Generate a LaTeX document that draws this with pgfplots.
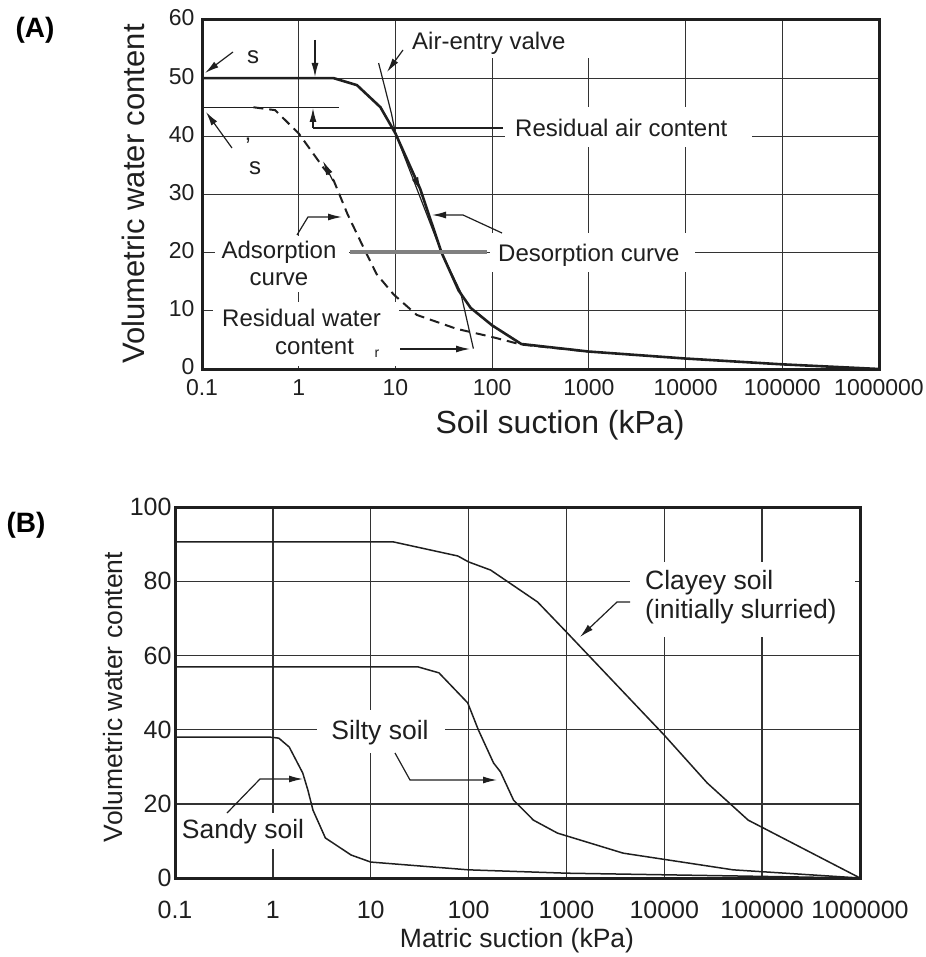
\documentclass[border=0pt]{standalone}
\usepackage{fontspec}
\setmainfont{Liberation Sans}
\usepackage{pgfplots}
\pgfplotsset{compat=1.18}
\usetikzlibrary{arrows.meta}
\definecolor{ink}{gray}{0.12}
\definecolor{gridc}{gray}{0.2}
\begin{document}
\begin{tikzpicture}
\useasboundingbox (0pt,0pt) rectangle (925pt,-957pt);
% ---------------- Panel A ----------------
\begin{axis}[xmode=log, xmin=0.1, xmax=1000000,
  scale only axis, at={(202pt,-20pt)}, anchor=north west, width=677pt, height=349pt,
  xtick={0.1,1,10,100,1000,10000,100000,1000000},
  xticklabels={0.1,1,10,100,1000,10000,100000,1000000},
  grid=major, major grid style={line width=1.2pt, color=gridc},
  axis line style={line width=3pt, color=ink},
  tick style={draw=none},
  ymin=0, ymax=60, ytick={0,10,20,30,40,50,60},
  ticklabel style={font=\fontsize{23}{23}\selectfont, text=ink},
  xticklabel style={anchor=base, yshift=-26pt},
  yticklabel style={xshift=-4pt, yshift=2pt},
  /pgf/number format/assume math mode=true]
\addplot[ink, line width=2.6pt] coordinates {(0.1,50) (2.3,50) (4.0,48.8) (7.0,45) (10,40.5) (18,31) (30,20) (45,13.5) (60,10.5) (100,7.5) (200,4.3) (1000,3.0) (10000,1.8) (100000,0.8) (1000000,0)};
\addplot[ink, line width=2pt, dash pattern=on 10pt off 6pt] coordinates {(0.34,45) (0.57,44.5) (1.0,40.5) (1.8,34.6) (2.3,32.4) (3.2,26.6) (4.7,20.8) (6.4,16.3) (9.6,12.8) (16.6,9.3) (43,6.9) (100,5.5) (200,4.2) (1000,3.0)};
\addplot[ink, line width=1.2pt] coordinates {(6.7,52.6) (9.1,43.9) (10,40.5) (30,20) (47,13.3) (64,3.5)};
\addplot[ink, line width=1.2pt] coordinates {(0.1,45) (2.6,45)};
\end{axis}
% ---------------- Panel B ----------------
\begin{axis}[xmode=log, xmin=0.1, xmax=1000000,
  scale only axis, at={(175pt,-507pt)}, anchor=north west, width=685pt, height=371pt,
  xtick={0.1,1,10,100,1000,10000,100000,1000000},
  xticklabels={0.1,1,10,100,1000,10000,100000,1000000},
  grid=major, major grid style={line width=1.4pt, color=gridc},
  axis line style={line width=3pt, color=ink},
  tick style={draw=none},
  ymin=0, ymax=100, ytick={0,20,40,60,80,100},
  ticklabel style={font=\fontsize{25}{25}\selectfont, text=ink},
  xticklabel style={anchor=base, yshift=-40pt},
  /pgf/number format/assume math mode=true]
\addplot[ink, line width=1.5pt] coordinates {(0.1,90.6) (17,90.6) (77.6,86.8) (100,85.2) (168,83.0) (507,74.4) (1000,66.3) (10000,38.5) (27500,25.6) (72000,15.6) (1000000,0)};
\addplot[ink, line width=1.5pt] coordinates {(0.1,56.9) (30.5,56.9) (49.8,55.3) (98,47.2) (126,39.9) (180,31.0) (212,28.6) (288,21.0) (460,15.6) (810,12.1) (3800,6.7) (50600,2.2) (1000000,0)};
\addplot[ink, line width=1.5pt] coordinates {(0.1,38.0) (0.91,38.0) (1.15,37.7) (1.47,35.3) (2.02,28.3) (2.28,23.7) (2.57,18.3) (3.44,10.8) (6.3,6.2) (10,4.3) (100,2.2) (1000,1.3) (1000000,0)};
\end{axis}
\begin{scope}[x=1pt,y=1pt]
% white boxes A
\fill[white] (405,-21) rectangle (590,-58);
\fill[white] (505,-107) rectangle (752,-147);
\fill[white] (490,-233) rectangle (695,-272);
\fill[white] (215,-236) rectangle (349,-292);
\fill[white] (213,-302) rectangle (399,-366);
% annotations A
\begin{scope}[ink, line width=1.2pt, >={Latex[length=14pt,width=7pt]}]
\draw[->] (233,-52) -- (205,-73);
\draw[->] (232,-148) -- (206,-112);
\draw[->] (315,-40) -- (315,-77);
\draw[->] (313,-128) -- (313,-108);
\draw (313,-128) -- (503,-128);
\draw[->] (403,-50) -- (387,-72);
\draw[->] (297,-235) -- (308,-217) -- (342,-217);
\draw[->] (502,-233) -- (463,-215) -- (432,-215);
\draw[->] (400,-349) -- (470,-349);
\draw[->] (412,-172) -- (421,-191);
\draw[->] (333,-181) -- (323,-161);
\draw[gray, line width=3.5pt] (350,-252) -- (487,-252);
\end{scope}
\begin{scope}[text=ink, font=\fontsize{24}{27}\selectfont]
\node[anchor=west, inner sep=0] at (412,-43) {Air-entry valve};
\node[anchor=west, inner sep=0] at (515,-128) {Residual air content};
\node[anchor=west, inner sep=0] at (498,-255) {Desorption curve};
\node[align=center, inner sep=0] at (279,-263) {Adsorption\\curve};
\node[anchor=west, inner sep=0] at (222,-318) {Residual water};
\node[anchor=west, inner sep=0] at (275,-347) {content};
\node[inner sep=0, font=\fontsize{14}{14}\selectfont] at (377,-354) {r};
\node[inner sep=0] at (253,-57) {s};
\node[inner sep=0] at (248,-146) {'};
\node[inner sep=0] at (255,-168) {s};
\end{scope}
\node[rotate=90, text=ink, font=\fontsize{31}{31}\selectfont] at (133,-194) {Volumetric water content};
\node[text=ink, font=\fontsize{32}{32}\selectfont] at (560,-425) {Soil suction (kPa)};
\node[text=black, font=\bfseries\fontsize{28}{28}\selectfont] at (35,-30) {(A)};
% B annotations
\fill[white] (630,-562) rectangle (855,-637);
\fill[white] (317,-710) rectangle (445,-753);
\fill[white] (179,-813) rectangle (309,-849);
\begin{scope}[ink, line width=1.2pt, >={Latex[length=14pt,width=7pt]}]
\draw[->] (630,-602) -- (617,-602) -- (580,-637);
\draw[->] (395,-753) -- (410,-780) -- (497,-780);
\draw[->] (227,-813) -- (260,-779) -- (303,-779);
\end{scope}
\begin{scope}[text=ink, font=\fontsize{26.5}{29}\selectfont]
\node[anchor=west, inner sep=0] at (645,-583) {Clayey soil};
\node[anchor=west, inner sep=0] at (645,-612) {(initially slurried)};
\node[inner sep=0] at (380,-733) {Silty soil};
\node[inner sep=0] at (243,-832) {Sandy soil};
\node[rotate=90] at (113,-697) {Volumetric water content};
\node at (517,-941) {Matric suction (kPa)};
\end{scope}
\node[text=black, font=\bfseries\fontsize{28}{28}\selectfont] at (26,-525) {(B)};
\end{scope}
\end{tikzpicture}
\end{document}
